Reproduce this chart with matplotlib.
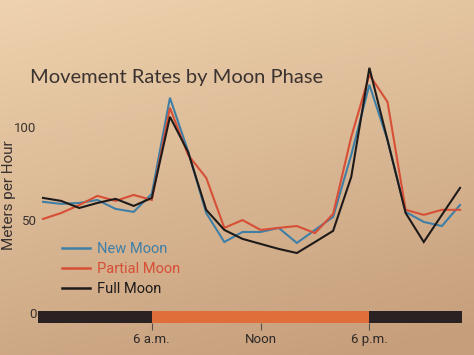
import numpy as np
import matplotlib
matplotlib.use('Agg')
import matplotlib.pyplot as plt

# hourly movement rates (meters per hour), hour 0 = midnight
hours = list(range(24))
new_moon = [60.8, 59.7, 60.2, 61.8, 57.0, 55.4, 65.1, 116.7, 88.0, 54.8, 39.2, 44.6,
            44.6, 46.8, 38.7, 45.7, 52.7, 86.0, 123.7, 94.0, 55.4, 50.0, 47.8, 59.1]
partial_moon = [51.6, 54.8, 59.1, 64.0, 61.3, 64.5, 61.8, 111.3, 86.0, 73.7, 46.8, 51.0,
                45.7, 46.8, 47.8, 44.0, 54.3, 95.7, 129.0, 114.5, 56.5, 53.8, 56.5, 56.5]
full_moon = [62.9, 61.3, 57.5, 60.2, 62.4, 58.6, 62.9, 106.5, 87.6, 56.5, 45.7, 40.9,
             38.2, 35.5, 33.3, 39.2, 45.2, 74.2, 132.8, 94.0, 54.8, 39.2, 53.8, 68.3]

series_names = ['New Moon', 'Partial Moon', 'Full Moon']
series_colors = ['#3f7fa6', '#d64f36', '#1f1a1a']

y_ticks = [0, 50, 100]
tick_hours = [6, 12, 18]
tick_labels = ['6 a.m.', 'Noon', '6 p.m.']

# night / day strip along the zero line
strip_edges = [-0.3, 6, 18, 23.1]
strip_colors = ['#2a2222', '#df6e3b', '#2a2222']

narrow = ['Roboto', 'DejaVu Sans']

fig = plt.figure(figsize=(4.74, 3.55), dpi=100)

# paper-like background
bg = fig.add_axes([0, 0, 1, 1])
yy, xx = np.mgrid[0:1:200j, 0:1:200j]
t = np.clip(0.8 * yy + 0.25 * xx, 0, 1)[..., None]
top = np.array([0xef, 0xd3, 0xae]) / 255
bottom = np.array([0xc6, 0x9e, 0x7c]) / 255
bg.imshow(top * (1 - t) + bottom * t, extent=[0, 1, 0, 1], aspect='auto')
bg.axis('off')

ax = fig.add_axes([20 / 474, 1 - 323 / 355, 450 / 474, 263 / 355])
ax.patch.set_alpha(0)
ax.set_xlim(-1.27, 23.55)
ax.set_ylim(-4.3, 137)

for vals, name, col in zip([new_moon, partial_moon, full_moon], series_names, series_colors):
    ax.plot(hours, vals, color=col, lw=1.5, label=name, solid_joinstyle='miter')

for i, col in enumerate(strip_colors):
    ax.broken_barh([(strip_edges[i], strip_edges[i + 1] - strip_edges[i])], (-4.3, 6.5),
                   facecolors=col, zorder=3)

for s in ax.spines.values():
    s.set_visible(False)
ax.set_yticks([])
ax.set_xticks(tick_hours)
ax.set_xticklabels(tick_labels, family=narrow, fontsize=9.5, color='#2e2826')
ax.tick_params(axis='x', direction='out', length=5, width=0.8, color='#5a4e48', pad=2)

for v in y_ticks:
    ax.text(-0.35, v, str(v), ha='right', va='center', fontsize=9.5, family=narrow,
            color='#3a3230')

fig.text(30 / 474, 1 - 77 / 355, 'Movement Rates by Moon Phase', ha='left', va='center',
         fontsize=14.5, family=['Lato', 'DejaVu Sans'], color='#3b3330')

fig.text(9 / 474, 1 - 195 / 355, 'Meters per Hour', rotation=90, ha='center', va='center',
         fontsize=11, family=narrow, color='#3a3230')

leg = ax.legend(loc='upper left', bbox_to_anchor=(62 / 474, 1 - 242 / 355),
                bbox_transform=fig.transFigure, frameon=False, borderpad=0,
                borderaxespad=0, handlelength=1.9, handletextpad=0.5, labelspacing=0.4,
                labelcolor='linecolor', prop={'family': narrow, 'size': 10.5})
for line in leg.get_lines():
    line.set_linewidth(1.8)

fig.savefig('out.png', dpi=100)
